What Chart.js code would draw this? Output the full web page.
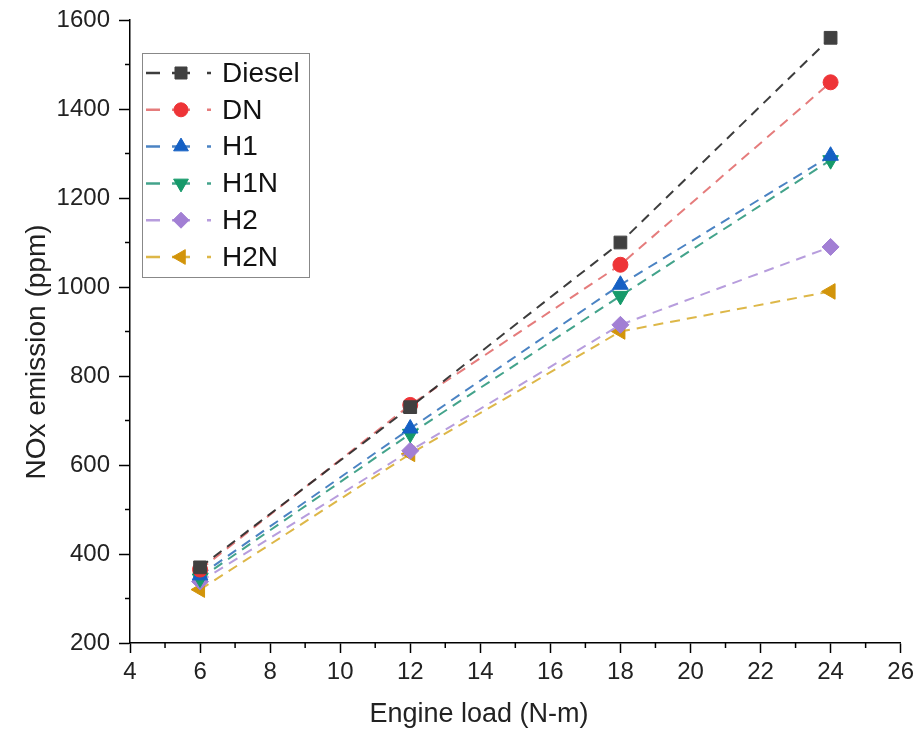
<!DOCTYPE html>
<html>
<head>
<meta charset="utf-8">
<script src="https://cdn.jsdelivr.net/npm/chart.js@4"></script>
<style>
  html, body { margin: 0; padding: 0; background: #fff; }
  #wrap { width: 919px; height: 742px; }
</style>
</head>
<body>
<div id="wrap"><canvas id="noxChart" width="919" height="742"></canvas></div>
<script>
// Engine load (N-m)
const loads = [6, 12, 18, 24];

// NOx emission (ppm) per fuel
const diesel = [370, 730, 1100, 1560];
const dn     = [365, 735, 1050, 1460];
const h1     = [352, 682, 1005, 1295];
const h1n    = [345, 670, 980, 1285];
const h2     = [338, 632, 915, 1090];
const h2n    = [320, 625, 900, 990];

const seriesNames = ['Diesel', 'DN', 'H1', 'H1N', 'H2', 'H2N'];
const seriesValues = [diesel, dn, h1, h1n, h2, h2n];

const xTicks = [4, 6, 8, 10, 12, 14, 16, 18, 20, 22, 24, 26];
const yTicks = [200, 400, 600, 800, 1000, 1200, 1400, 1600];

const FONT = '"Liberation Sans", Arial, sans-serif';

const styles = [
    { marker: '#404040', line: 'rgba(40,40,40,0.9)',    shape: 'rect',     rot: 0,   r: 9 },
    { marker: '#ee3437', line: 'rgba(220,80,80,0.75)',  shape: 'circle',   rot: 0,   r: 7.5 },
    { marker: '#1560c4', line: 'rgba(30,100,180,0.8)',  shape: 'triangle', rot: 0,   r: 9 },
    { marker: '#169a6a', line: 'rgba(20,140,110,0.8)',  shape: 'triangle', rot: 180, r: 9 },
    { marker: '#a27fd4', line: 'rgba(170,140,215,0.85)', shape: 'rectRot', rot: 0,   r: 8.5 },
    { marker: '#d2940a', line: 'rgba(215,170,40,0.85)', shape: 'triangle', rot: -90, r: 9 }
];

const datasets = seriesNames.map(function(name, i) {
    return {
        label: name,
        data: loads.map(function(x, j) { return { x: x, y: seriesValues[i][j] }; }),
        borderColor: styles[i].line,
        backgroundColor: styles[i].marker,
        borderWidth: 2,
        borderDash: [10, 7],
        pointStyle: styles[i].shape,
        pointRotation: styles[i].rot,
        pointRadius: styles[i].r,
        pointBackgroundColor: styles[i].marker,
        pointBorderColor: styles[i].marker,
        pointBorderWidth: 1,
        tension: 0
    };
});

// minor ticks (halfway between majors) drawn off the library scales
const minorTicks = {
    id: 'minorTicks',
    afterDraw: function(chart) {
        const ctx = chart.ctx;
        const xs = chart.scales.x, ys = chart.scales.y;
        ctx.save();
        ctx.strokeStyle = '#000';
        ctx.lineWidth = 1.5;
        for (let i = 0; i < xTicks.length - 1; i++) {
            const px = xs.getPixelForValue((xTicks[i] + xTicks[i + 1]) / 2);
            ctx.beginPath();
            ctx.moveTo(px, ys.bottom);
            ctx.lineTo(px, ys.bottom + 5);
            ctx.stroke();
        }
        for (let i = 0; i < yTicks.length - 1; i++) {
            const py = ys.getPixelForValue((yTicks[i] + yTicks[i + 1]) / 2);
            ctx.beginPath();
            ctx.moveTo(xs.left, py);
            ctx.lineTo(xs.left - 5, py);
            ctx.stroke();
        }
        ctx.restore();
    }
};

// axis titles, placed like the original (x title sits left of centre)
const axisTitles = {
    id: 'axisTitles',
    afterDraw: function(chart) {
        const ctx = chart.ctx;
        ctx.save();
        ctx.fillStyle = '#222';
        ctx.textAlign = 'center';
        ctx.textBaseline = 'alphabetic';
        ctx.font = '27px ' + FONT;
        ctx.fillText('Engine load (N-m)', 479, 722);
        ctx.font = '28px ' + FONT;
        ctx.translate(45, 352);
        ctx.rotate(-Math.PI / 2);
        ctx.fillText('NOx emission (ppm)', 0, 0);
        ctx.restore();
    }
};

// boxed legend with dash + marker like the original
const boxLegend = {
    id: 'boxLegend',
    afterDraw: function(chart) {
        const ctx = chart.ctx;
        const left = 142, top = 53, w = 167, h = 224;
        ctx.save();
        ctx.fillStyle = '#fff';
        ctx.fillRect(left, top, w, h);
        ctx.strokeStyle = '#888';
        ctx.lineWidth = 1;
        ctx.strokeRect(left + 0.5, top + 0.5, w, h);
        seriesNames.forEach(function(name, i) {
            const y = 73 + i * 36.8;
            ctx.strokeStyle = styles[i].line;
            ctx.lineWidth = 2.5;
            ctx.beginPath();
            ctx.moveTo(146, y); ctx.lineTo(160, y);
            ctx.moveTo(172, y); ctx.lineTo(190, y);
            ctx.moveTo(207, y); ctx.lineTo(211, y);
            ctx.stroke();
            ctx.fillStyle = styles[i].marker;
            ctx.strokeStyle = styles[i].marker;
            ctx.lineWidth = 1;
            Chart.helpers.drawPoint(ctx, {
                pointStyle: styles[i].shape,
                rotation: styles[i].rot,
                radius: styles[i].r - 0.5,
                borderWidth: 1
            }, 181, y);
            ctx.fillStyle = '#111';
            ctx.font = '28px ' + FONT;
            ctx.textBaseline = 'middle';
            ctx.fillText(name, 222, y + 1);
        });
        ctx.restore();
    }
};

new Chart(document.getElementById('noxChart').getContext('2d'), {
    type: 'line',
    data: { datasets: datasets },
    plugins: [minorTicks, axisTitles, boxLegend],
    options: {
        responsive: false,
        animation: false,
        layout: { padding: { top: 20, right: 15, left: 0, bottom: 0 } },
        plugins: {
            legend: { display: false },
            tooltip: { enabled: false }
        },
        scales: {
            x: {
                type: 'linear',
                min: 4,
                max: 26,
                afterBuildTicks: function(scale) {
                    scale.ticks = xTicks.map(function(v) { return { value: v }; });
                },
                afterFit: function(scale) { scale.height = 99; },
                border: { color: '#000', width: 1.5 },
                grid: { drawOnChartArea: false, color: '#000', tickLength: 10, tickWidth: 1.5 },
                ticks: {
                    color: '#222',
                    padding: 5,
                    maxRotation: 0,
                    callback: function(v) { return String(v); },
                    font: { family: FONT, size: 24 }
                }
            },
            y: {
                min: 200,
                max: 1600,
                afterBuildTicks: function(scale) {
                    scale.ticks = yTicks.map(function(v) { return { value: v }; });
                },
                afterFit: function(scale) {
                    scale.width = 130;
                    scale.paddingTop = 0;
                },
                border: { color: '#000', width: 1.5 },
                grid: { drawOnChartArea: false, color: '#000', tickLength: 11, tickWidth: 1.5 },
                ticks: {
                    color: '#222',
                    padding: 9,
                    callback: function(v) { return String(v); },
                    font: { family: FONT, size: 24, lineHeight: 1 }
                }
            }
        }
    }
});
</script>
</body>
</html>
